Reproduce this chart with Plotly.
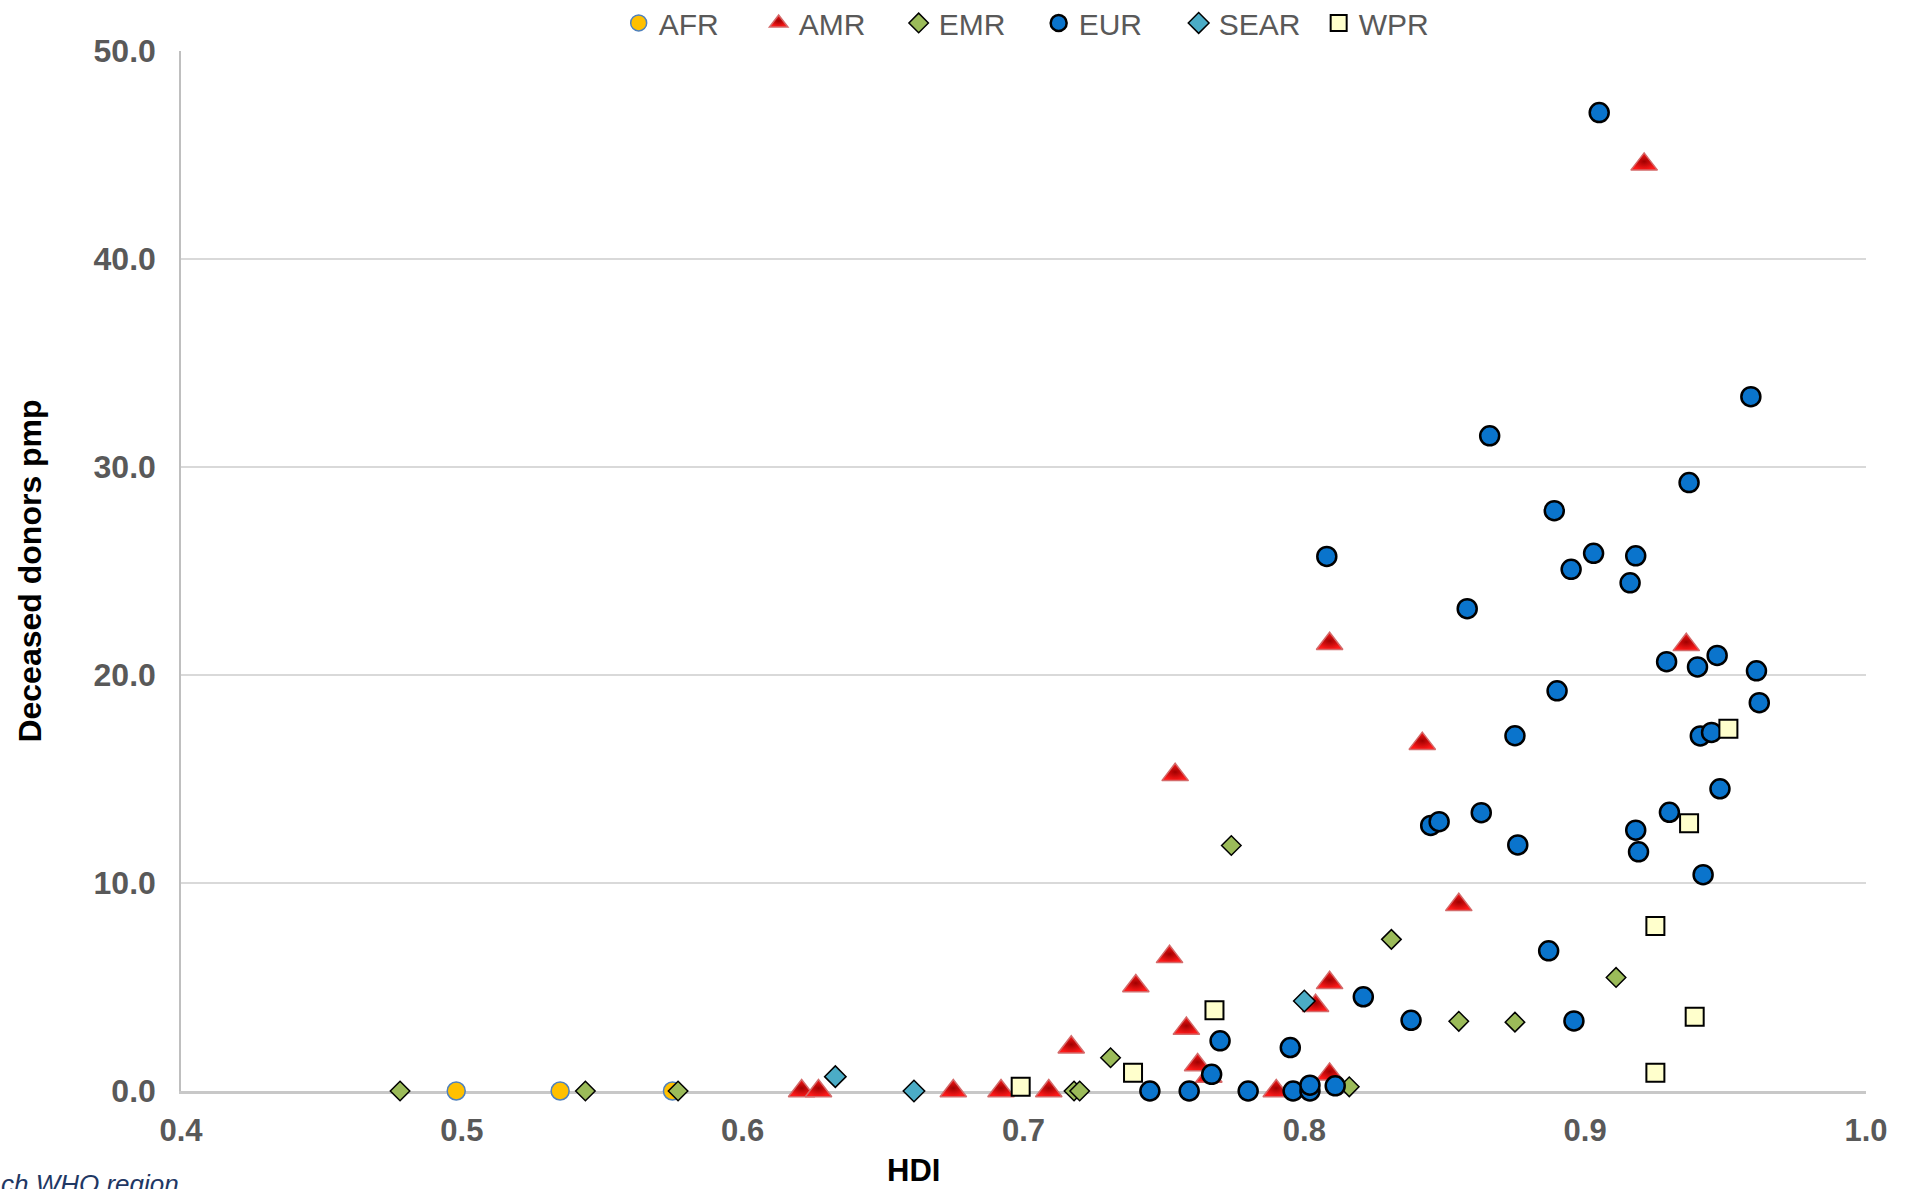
import plotly.graph_objects as go

# HDI (x) and deceased donors per million population (y), by WHO region
afr_hdi = [0.498, 0.535, 0.575]
afr_dd = [0, 0, 0]

amr_hdi = [0.621, 0.627, 0.675, 0.692, 0.709, 0.717, 0.740, 0.752, 0.754, 0.758, 0.762,
           0.766, 0.790, 0.804, 0.809, 0.809, 0.809, 0.842, 0.855, 0.921, 0.936]
amr_dd = [0, 0, 0, 0, 0, 2.1, 5.05, 6.45, 15.2, 3.0, 1.25,
          0.7, 0, 4.1, 5.2, 0.8, 21.5, 16.7, 8.95, 44.55, 21.45]

emr_hdi = [0.478, 0.544, 0.577, 0.718, 0.720, 0.731, 0.774, 0.816, 0.831, 0.855, 0.875, 0.911]
emr_dd = [0, 0, 0, 0, 0, 1.6, 11.8, 0.2, 7.29, 3.35, 3.31, 5.46]

eur_hdi = [0.745, 0.759, 0.780, 0.796, 0.802, 0.802, 0.811, 0.767, 0.770, 0.795,
           0.821, 0.838, 0.887, 0.896, 0.808, 0.903, 0.889, 0.895, 0.918, 0.916,
           0.858, 0.929, 0.940, 0.947, 0.961, 0.962, 0.890, 0.875, 0.941, 0.945,
           0.948, 0.930, 0.918, 0.919, 0.942, 0.845, 0.848, 0.863, 0.876, 0.905,
           0.959, 0.866, 0.937]
eur_dd = [0, 0, 0, 0, 0, 0.28, 0.25, 0.8, 2.41, 2.09,
          4.53, 3.4, 6.74, 3.37, 25.7, 25.85, 27.9, 25.08, 25.73, 24.43,
          23.19, 20.64, 20.39, 20.94, 20.2, 18.67, 19.24, 17.08, 17.07, 17.24,
          14.53, 13.4, 12.54, 11.5, 10.4, 12.77, 12.95, 13.38, 11.83, 47.04,
          33.38, 31.5, 29.25]

sear_hdi = [0.633, 0.661, 0.800]
sear_dd = [0.69, 0, 4.33]

wpr_hdi = [0.699, 0.739, 0.768, 0.925, 0.939, 0.925, 0.937, 0.951]
wpr_dd = [0.2, 0.88, 3.88, 0.88, 3.57, 7.93, 12.87, 17.42]

fig = go.Figure()

fig.add_trace(go.Scatter(x=afr_hdi, y=afr_dd, name="AFR", mode="markers", cliponaxis=False,
                         marker=dict(symbol="circle", size=18, color="#FFC000",
                                     line=dict(color="#4F81BD", width=1.5))))
fig.add_trace(go.Scatter(x=amr_hdi, y=amr_dd, name="AMR", mode="markers", cliponaxis=False,
                         marker=dict(symbol="triangle-up", size=23, color="#FF1A1A",
                                     gradient=dict(type="radial", color="#A00000"),
                                     line=dict(color="#D46A6A", width=1.5))))
fig.add_trace(go.Scatter(x=emr_hdi, y=emr_dd, name="EMR", mode="markers", cliponaxis=False,
                         marker=dict(symbol="diamond", size=15, color="#9BBB59",
                                     line=dict(color="black", width=1.5))))
fig.add_trace(go.Scatter(x=eur_hdi, y=eur_dd, name="EUR", mode="markers", cliponaxis=False,
                         marker=dict(symbol="circle", size=19, color="#0A74CC",
                                     line=dict(color="black", width=2.5))))
fig.add_trace(go.Scatter(x=sear_hdi, y=sear_dd, name="SEAR", mode="markers", cliponaxis=False,
                         marker=dict(symbol="diamond", size=16.5, color="#4BACC6",
                                     line=dict(color="black", width=1.5))))
fig.add_trace(go.Scatter(x=wpr_hdi, y=wpr_dd, name="WPR", mode="markers", cliponaxis=False,
                         marker=dict(symbol="square", size=18, color="#FFFFCC",
                                     line=dict(color="black", width=2))))

fig.update_layout(
    width=1909, height=1189,
    margin=dict(l=181, r=43, t=51, b=98, autoexpand=False),
    plot_bgcolor="white", paper_bgcolor="white",
    font=dict(family="Liberation Sans, Arial, sans-serif", color="#595959"),
    legend=dict(orientation="h", x=0.509, xanchor="center", y=1.052, yanchor="top",
                font=dict(size=30, color="#595959"), entrywidth=95),
    xaxis=dict(range=[0.4, 1.0], dtick=0.1, tickformat=".1f", showgrid=False,
               showline=True, linecolor="#C8C8C8", linewidth=2.5, zeroline=False,
               layer="below traces", ticklabelstandoff=10, automargin=False,
               tickfont=dict(size=31, color="#595959", weight="bold")),
    yaxis=dict(range=[0, 50], dtick=10, tickformat=".1f", showgrid=True,
               gridcolor="#D9D9D9", gridwidth=1.5,
               showline=True, linecolor="#BFBFBF", linewidth=1.5, zeroline=False,
               layer="below traces", ticklabelstandoff=17, automargin=False,
               tickfont=dict(size=32, color="#595959", weight="bold"),
               title=dict(text="Deceased donors pmp", standoff=42,
                          font=dict(size=32, color="black", weight="bold"))),
)

# x-axis title sits left of the plot centre in the original
fig.add_annotation(text="HDI", xref="paper", yref="paper", x=0.4345, y=-0.0769,
                   xanchor="center", yanchor="middle", showarrow=False,
                   font=dict(size=31, color="black", weight="bold"))

fig.add_annotation(text="ch WHO region", xref="paper", yref="paper", x=0, y=-0.089,
                   xanchor="right", yanchor="middle", showarrow=False,
                   font=dict(size=26, color="#1F3864", style="italic"))

fig.write_html("out.html", config={"displayModeBar": False},
               post_script="document.body.style.margin='0';document.body.style.overflow='hidden';")
